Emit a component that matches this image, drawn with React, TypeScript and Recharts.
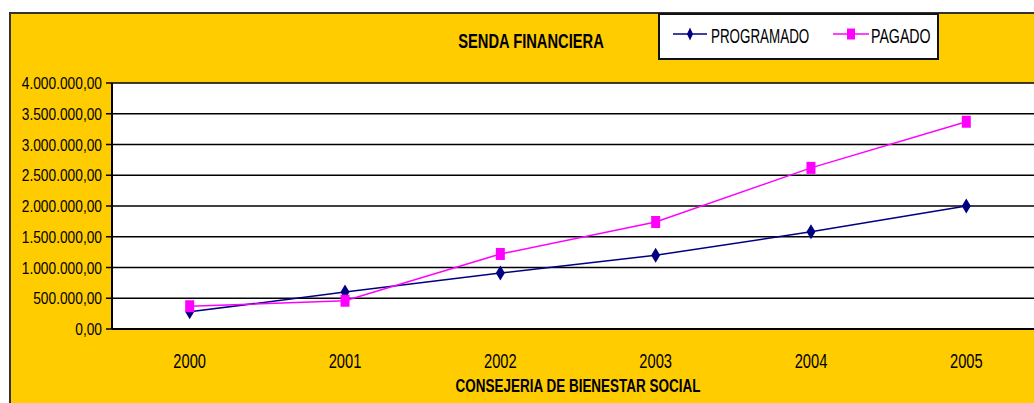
import React from 'react';
import { LineChart, Line, XAxis, YAxis, CartesianGrid, Legend, Customized } from 'recharts';

const years = ['2000', '2001', '2002', '2003', '2004', '2005'];
const programado = [280000, 600000, 910000, 1200000, 1580000, 2000000];
const pagado = [370000, 460000, 1220000, 1740000, 2620000, 3370000];
const yTicks = [0, 500000, 1000000, 1500000, 2000000, 2500000, 3000000, 3500000, 4000000];
const boundaryTicks = [0, 1, 2, 3, 4, 5, 6];

const data = years.map((year, i) => ({ year, programado: programado[i], pagado: pagado[i] }));

const FONT = 'Liberation Sans, Arial, sans-serif';
const NAVY = '#000080';
const MAGENTA = '#FF00FF';

// 4000000 -> "4.000.000,00"
const fmt = (v: number) => {
  const s = Math.round(v).toString().replace(/\B(?=(\d{3})+(?!\d))/g, '.');
  return s + ',00';
};

const YTick = (props: any) => {
  const { x, y, payload } = props;
  return (
    <g transform={`translate(${x},${y})`}>
      <text x={0} y={0} dy={6} textAnchor="end" transform="scale(0.86,1)" fontSize={16} fontFamily={FONT} fill="#000">
        {fmt(payload.value)}
      </text>
    </g>
  );
};

const XTick = (props: any) => {
  const { x, y, payload } = props;
  return (
    <g transform={`translate(${x},${y})`}>
      <text x={0} y={0} dy={39} textAnchor="middle" transform="scale(0.7,1)" fontSize={21} fontFamily={FONT} fill="#000">
        {payload.value}
      </text>
    </g>
  );
};

const diamondPath = (cx: number, cy: number, w: number, h: number) =>
  `M${cx},${cy - h / 2} L${cx + w / 2},${cy} L${cx},${cy + h / 2} L${cx - w / 2},${cy} Z`;

const renderDiamond = (p: any) =>
  p.cx == null ? null : <path key={`d-${p.index}`} d={diamondPath(p.cx, p.cy, 9, 15)} fill={NAVY} />;

const renderSquare = (p: any) =>
  p.cx == null ? null : <rect key={`s-${p.index}`} x={p.cx - 4.5} y={p.cy - 6} width={9} height={12} fill={MAGENTA} />;

const legendSlots: Record<string, { lineX: number; lineW: number; textX: number; sx: number }> = {
  programado: { lineX: 13, lineW: 34, textX: 51, sx: 0.67 },
  pagado: { lineX: 173, lineW: 36, textX: 211, sx: 0.71 },
};

const LegendBox = (props: any) => {
  const { payload = [] } = props;
  return (
    <div style={{ width: 281, height: 47, background: '#fff', border: '2px solid #111', boxSizing: 'border-box' }}>
      <svg width={277} height={43} style={{ display: 'block', overflow: 'visible' }}>
        {payload.map((entry: any) => {
          const s = legendSlots[entry.dataKey];
          if (!s) return null;
          const cx = s.lineX + s.lineW / 2;
          return (
            <g key={entry.dataKey}>
              <line x1={s.lineX} x2={s.lineX + s.lineW} y1={19} y2={19} stroke={entry.color} strokeWidth={1.5} />
              {entry.dataKey === 'programado' ? (
                <path d={diamondPath(cx, 19, 6, 13)} fill={NAVY} />
              ) : (
                <rect x={cx - 4} y={13.5} width={8} height={11} fill={MAGENTA} />
              )}
              <text transform={`translate(${s.textX},28) scale(${s.sx},1)`} fontSize={20} fontFamily={FONT} fill="#000">
                {entry.value}
              </text>
            </g>
          );
        })}
      </svg>
    </div>
  );
};

const Title = () => (
  <text transform="translate(531,48) scale(0.7,1)" textAnchor="middle" fontSize={21} fontWeight="bold" fontFamily={FONT} fill="#000">
    SENDA FINANCIERA
  </text>
);

const XTitle = (props: any) => {
  const { viewBox } = props;
  if (!viewBox) return null;
  return (
    <text
      transform={`translate(${viewBox.x + viewBox.width / 2},${viewBox.y + 63}) scale(0.71,1)`}
      textAnchor="middle"
      fontSize={19}
      fontWeight="bold"
      fontFamily={FONT}
      fill="#000"
    >
      CONSEJERIA DE BIENESTAR SOCIAL
    </text>
  );
};

export default function App() {
  return (
    <div style={{ position: 'absolute', left: 0, top: 0, width: 1034, height: 403, overflow: 'hidden', background: '#fff' }}>
      <div style={{ position: 'absolute', left: 9, top: 12, width: 1060, height: 420, background: '#FFCC00', border: '2px solid #333', boxSizing: 'border-box' }} />
      <div style={{ position: 'absolute', left: 0, top: 0 }}>
        <LineChart width={1050} height={403} data={data} margin={{ top: 83, right: 6, bottom: 0, left: 0 }}>
          <CartesianGrid xAxisId={0} fill="#fff" stroke="#000" strokeWidth={1.5} />
          <XAxis
            xAxisId={0}
            type="number"
            domain={[0, 6]}
            ticks={boundaryTicks}
            allowDataOverflow
            height={0}
            tick={false}
            axisLine={false}
            tickLine={{ stroke: '#000', strokeWidth: 1.5 }}
            tickSize={8}
          />
          <XAxis
            xAxisId={1}
            dataKey="year"
            type="category"
            scale="point"
            padding={{ left: 77.7, right: 77.7 }}
            height={74}
            tickSize={0}
            tickMargin={0}
            tickLine={false}
            axisLine={{ stroke: '#000', strokeWidth: 2 }}
            tick={<XTick />}
            label={<XTitle />}
          />
          <YAxis
            width={112}
            domain={[0, 4000000]}
            ticks={yTicks}
            allowDataOverflow
            tickSize={6}
            tickMargin={4}
            tickLine={{ stroke: '#000', strokeWidth: 1.5 }}
            axisLine={{ stroke: '#000', strokeWidth: 2 }}
            tick={<YTick />}
          />
          <Legend
            content={<LegendBox />}
            layout="horizontal"
            verticalAlign="middle"
            align="center"
            wrapperStyle={{ left: 658, top: 13, width: 281, height: 47 }}
          />
          <Line
            xAxisId={1}
            name="PROGRAMADO"
            dataKey="programado"
            type="linear"
            stroke={NAVY}
            strokeWidth={1.5}
            dot={renderDiamond}
            activeDot={false}
            isAnimationActive={false}
          />
          <Line
            xAxisId={1}
            name="PAGADO"
            dataKey="pagado"
            type="linear"
            stroke={MAGENTA}
            strokeWidth={1.5}
            dot={renderSquare}
            activeDot={false}
            isAnimationActive={false}
          />
          <Customized component={Title} />
        </LineChart>
      </div>
    </div>
  );
}
